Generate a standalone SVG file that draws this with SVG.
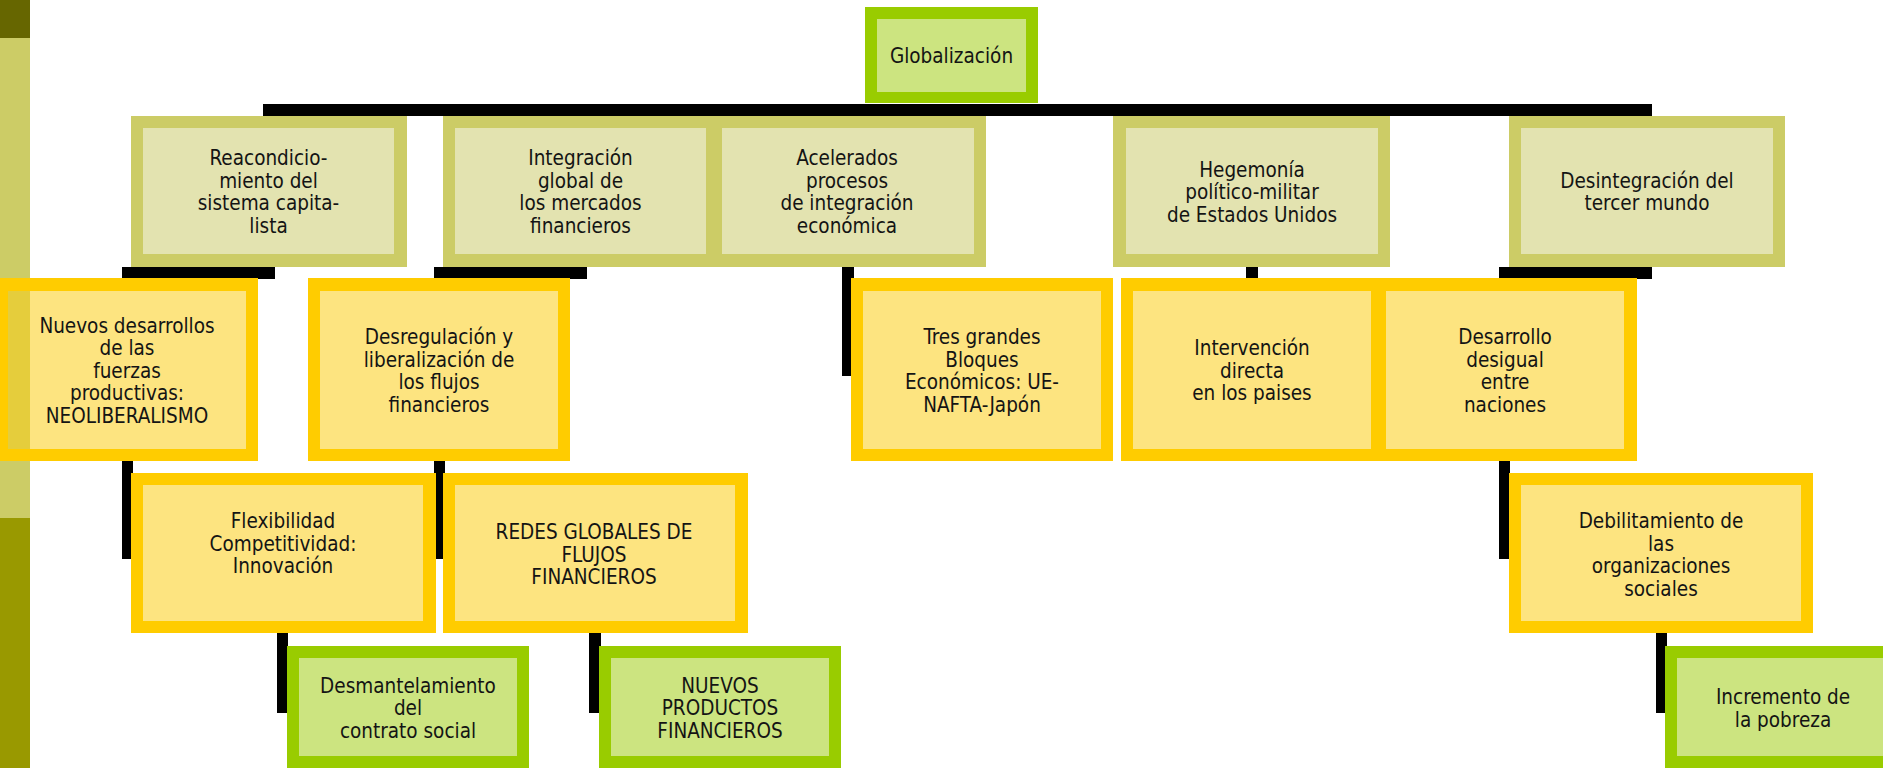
<svg xmlns="http://www.w3.org/2000/svg" width="1883" height="768" viewBox="0 0 1883 768">
<style>
.ob{fill:#CCCC66}.oi{fill:#E3E3B0}
.yb{fill:#FFCC00}.yi{fill:#FDE480}
.gb{fill:#99CC00}.gi{fill:#CCE480}
.c{fill:#000}
text{font-family:"DejaVu Sans Condensed","DejaVu Sans",sans-serif;font-stretch:condensed;font-size:20.5px;fill:#141414;text-anchor:middle}
</style>
<rect x="0" y="0" width="1883" height="768" fill="#fff"/>
<g id="sidebar">
<rect x="0" y="0" width="30" height="38" fill="#666600"/>
<rect x="0" y="38" width="30" height="480" fill="#CCCC66"/>
<rect x="0" y="518" width="30" height="250" fill="#999900"/>
</g>
<g id="connectors">
<rect class="c" x="263" y="104" width="1389" height="12"/>
<rect class="c" x="122" y="267" width="153" height="12"/>
<rect class="c" x="434" y="267" width="153" height="12"/>
<rect class="c" x="842" y="267" width="12" height="109"/>
<rect class="c" x="1246" y="267" width="12" height="12"/>
<rect class="c" x="1499" y="267" width="153" height="12"/>
<rect class="c" x="122" y="461" width="11" height="98"/>
<rect class="c" x="434" y="461" width="11" height="98"/>
<rect class="c" x="1499" y="461" width="11" height="98"/>
<rect class="c" x="277" y="633" width="11" height="80"/>
<rect class="c" x="589" y="633" width="12" height="80"/>
<rect class="c" x="1656" y="633" width="11" height="80"/>
</g>
<g id="n0">
<rect class="gb" x="865" y="7" width="173" height="96"/>
<rect class="gi" x="877" y="19" width="149" height="73"/>
<text x="951.5" y="63">Globalización</text>
</g>
<g id="n1">
<rect class="ob" x="131" y="116" width="276" height="151"/>
<rect class="oi" x="143" y="128" width="251" height="126"/>
<text x="268.5" y="165">Reacondicio-</text>
<text x="268.5" y="187.5">miento del</text>
<text x="268.5" y="210">sistema capita-</text>
<text x="268.5" y="232.5">lista</text>
</g>
<g id="n2">
<rect class="ob" x="443" y="116" width="273" height="151"/>
<rect class="oi" x="455" y="128" width="251" height="126"/>
<text x="580.5" y="165">Integración</text>
<text x="580.5" y="187.5">global de</text>
<text x="580.5" y="210">los mercados</text>
<text x="580.5" y="232.5">financieros</text>
</g>
<g id="n3">
<rect class="ob" x="710" y="116" width="276" height="151"/>
<rect class="oi" x="722" y="128" width="252" height="126"/>
<text x="847" y="165">Acelerados</text>
<text x="847" y="187.5">procesos</text>
<text x="847" y="210">de integración</text>
<text x="847" y="232.5">económica</text>
</g>
<g id="n4">
<rect class="ob" x="1113" y="116" width="277" height="151"/>
<rect class="oi" x="1126" y="128" width="252" height="126"/>
<text x="1252" y="176.5">Hegemonía</text>
<text x="1252" y="199">político-militar</text>
<text x="1252" y="221.5">de Estados Unidos</text>
</g>
<g id="n5">
<rect class="ob" x="1509" y="116" width="276" height="151"/>
<rect class="oi" x="1521" y="128" width="252" height="126"/>
<text x="1647" y="187.5">Desintegración del</text>
<text x="1647" y="210">tercer mundo</text>
</g>
<g id="n6">
<rect class="yb" x="0" y="278" width="258" height="183"/>
<rect class="yi" x="8" y="291" width="238" height="158"/>
<rect x="8" y="291" width="22" height="158" fill="#E5CD3C"/>
<text x="127" y="332.5">Nuevos desarrollos</text>
<text x="127" y="355">de las</text>
<text x="127" y="377.5">fuerzas</text>
<text x="127" y="400">productivas:</text>
<text x="127" y="422.5">NEOLIBERALISMO</text>
</g>
<g id="n7">
<rect class="yb" x="308" y="278" width="262" height="183"/>
<rect class="yi" x="320" y="291" width="238" height="158"/>
<text x="439" y="344">Desregulación y</text>
<text x="439" y="366.5">liberalización de</text>
<text x="439" y="389">los flujos</text>
<text x="439" y="411.5">financieros</text>
</g>
<g id="n8">
<rect class="yb" x="851" y="278" width="262" height="183"/>
<rect class="yi" x="863" y="291" width="238" height="158"/>
<text x="982" y="344">Tres grandes</text>
<text x="982" y="366.5">Bloques</text>
<text x="982" y="389">Económicos: UE-</text>
<text x="982" y="411.5">NAFTA-Japón</text>
</g>
<g id="n9">
<rect class="yb" x="1121" y="278" width="262" height="183"/>
<rect class="yi" x="1133" y="291" width="238" height="158"/>
<text x="1252" y="355">Intervención</text>
<text x="1252" y="377.5">directa</text>
<text x="1252" y="400">en los paises</text>
</g>
<g id="n10">
<rect class="yb" x="1374" y="278" width="263" height="183"/>
<rect class="yi" x="1386" y="291" width="238" height="158"/>
<text x="1505" y="344">Desarrollo</text>
<text x="1505" y="366.5">desigual</text>
<text x="1505" y="389">entre</text>
<text x="1505" y="411.5">naciones</text>
</g>
<g id="n11">
<rect class="yb" x="131" y="473" width="305" height="160"/>
<rect class="yi" x="143" y="485" width="280" height="136"/>
<text x="283" y="528">Flexibilidad</text>
<text x="283" y="550.5">Competitividad:</text>
<text x="283" y="573">Innovación</text>
</g>
<g id="n12">
<rect class="yb" x="443" y="473" width="305" height="160"/>
<rect class="yi" x="455" y="485" width="280" height="136"/>
<text x="594" y="539">REDES GLOBALES DE</text>
<text x="594" y="561.5">FLUJOS</text>
<text x="594" y="584">FINANCIEROS</text>
</g>
<g id="n13">
<rect class="yb" x="1509" y="473" width="304" height="160"/>
<rect class="yi" x="1521" y="485" width="280" height="136"/>
<text x="1661" y="528">Debilitamiento de</text>
<text x="1661" y="550.5">las</text>
<text x="1661" y="573">organizaciones</text>
<text x="1661" y="595.5">sociales</text>
</g>
<g id="n14">
<rect class="gb" x="287" y="646" width="242" height="124"/>
<rect class="gi" x="299" y="658" width="218" height="98"/>
<text x="408" y="692.5">Desmantelamiento</text>
<text x="408" y="715">del</text>
<text x="408" y="737.5">contrato social</text>
</g>
<g id="n15">
<rect class="gb" x="599" y="646" width="242" height="124"/>
<rect class="gi" x="611" y="658" width="218" height="98"/>
<text x="720" y="692.5">NUEVOS</text>
<text x="720" y="715">PRODUCTOS</text>
<text x="720" y="737.5">FINANCIEROS</text>
</g>
<g id="n16">
<rect class="gb" x="1665" y="646" width="242" height="124"/>
<rect class="gi" x="1677" y="658" width="218" height="98"/>
<text x="1783" y="704">Incremento de</text>
<text x="1783" y="726.5">la pobreza</text>
</g>
</svg>
